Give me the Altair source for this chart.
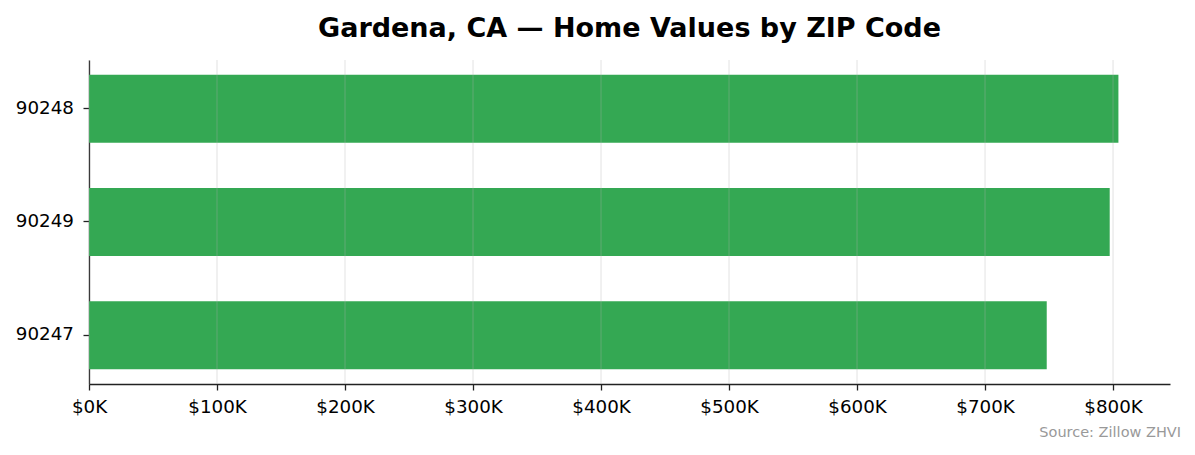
import altair as alt
import pandas as pd

zips = ["90248", "90249", "90247"]
values = [804200, 797400, 748200]
x_ticks = [0, 100000, 200000, 300000, 400000, 500000, 600000, 700000, 800000]
title_text = "Gardena, CA — Home Values by ZIP Code"
source_text = "Source: Zillow ZHVI"

df = pd.DataFrame({"zip": zips, "value": values})
grid_df = pd.DataFrame({"tick": x_ticks})
src_df = pd.DataFrame({"t": [source_text]})

W, H = 1081, 324
xscale = alt.Scale(domain=[0, 844500], nice=False, zero=True)

bars = alt.Chart(df).mark_bar(color="#34a853").encode(
    x=alt.X("value:Q", scale=xscale,
            axis=alt.Axis(values=x_ticks, grid=False, title=None, labelFlush=False,
                          labelExpr="'$' + format(datum.value/1000, 'd') + 'K'",
                          labelFont="DejaVu Sans", labelFontSize=18.3, labelColor="#000000",
                          domainColor="#222222", tickColor="#222222", tickSize=6,
                          domainWidth=1.3, tickWidth=1.3, labelPadding=8)),
    y=alt.Y("zip:N", sort=zips,
            scale=alt.Scale(paddingInner=0.4, paddingOuter=0.13),
            axis=alt.Axis(title=None, labelFont="DejaVu Sans", labelFontSize=18.3,
                          labelColor="#000000", domainColor="#222222", tickColor="#222222",
                          tickSize=6, domainWidth=1.3, tickWidth=1.3, labelPadding=9.5)),
)

grid = alt.Chart(grid_df).mark_rule(color="#b0b0b0", opacity=0.3, strokeWidth=1.2).encode(
    x=alt.X("tick:Q", scale=xscale),
)

src = alt.Chart(src_df).mark_text(
    align="right", baseline="alphabetic", font="DejaVu Sans", fontSize=14.5, color="#999999"
).encode(text="t:N", x=alt.value(W + 11), y=alt.value(H + 53))

chart = alt.layer(bars, grid, src).properties(
    width=W, height=H,
    title=alt.TitleParams(title_text, font="DejaVu Sans", fontSize=27, fontWeight="bold",
                          color="#000000", anchor="middle", offset=16),
    padding={"left": 7, "top": 7, "right": 5, "bottom": 5},
).configure_view(stroke=None).configure_axis(labelFontWeight="normal")

chart.save("out.html", embed_options={"renderer": "svg", "actions": False})
